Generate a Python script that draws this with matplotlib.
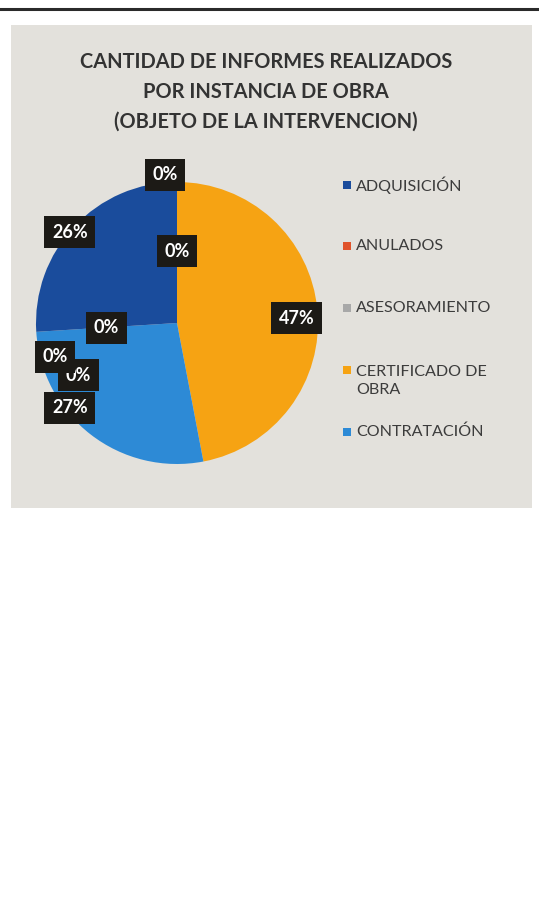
import matplotlib
matplotlib.use("Agg")
import matplotlib.pyplot as plt
from matplotlib.patches import Rectangle
from matplotlib.lines import Line2D

# ---- data ----
title = "CANTIDAD DE INFORMES REALIZADOS\nPOR INSTANCIA DE OBRA\n(OBJETO DE LA INTERVENCION)"
legend_labels = ["ADQUISICIÓN", "ANULADOS", "ASESORAMIENTO", "CERTIFICADO DE\nOBRA", "CONTRATACIÓN"]
# slices in drawing order (clockwise from 12 o'clock)
slice_names = ["CERTIFICADO DE OBRA", "CONTRATACIÓN", "ANULADOS", "ASESORAMIENTO", "OTROS", "ADQUISICIÓN", "OTROS 2", "OTROS 3"]
slice_values = [47, 27, 0, 0, 0, 26, 0, 0]
slice_labels = ["47%", "27%", "0%", "0%", "0%", "26%", "0%", "0%"]

colors = {
    "ADQUISICIÓN": "#1a4c9c",
    "ANULADOS": "#e0532b",
    "ASESORAMIENTO": "#a8a8a8",
    "CERTIFICADO DE OBRA": "#f6a313",
    "CONTRATACIÓN": "#2d8ad6",
    "OTROS": "#a8a8a8",
    "OTROS 2": "#a8a8a8",
    "OTROS 3": "#a8a8a8",
}
legend_keys = ["ADQUISICIÓN", "ANULADOS", "ASESORAMIENTO", "CERTIFICADO DE OBRA", "CONTRATACIÓN"]

# label placement (layout, in pie-radius units) and stacking order
label_pos = [(0.85, 0.035), (-0.76, -0.60), (-0.50, -0.035), (-0.865, -0.24),
             (-0.70, -0.37), (-0.76, 0.645), (-0.085, 1.05), (0.0, 0.51)]
label_z = [5, 7, 5, 6, 4, 5, 5, 5]

W, H = 539, 916
fig = plt.figure(figsize=(W / 100, H / 100), dpi=100)
fig.patch.set_facecolor("white")

def fx(px):
    return px / W

def fy(py):
    return 1 - py / H

# top rule
fig.add_artist(Line2D([0, 1], [fy(9), fy(9)], color="#2a2a2a", lw=2.2, zorder=-2))
# chart area
fig.add_artist(Rectangle((fx(11), fy(508)), fx(532) - fx(11), fy(25) - fy(508),
                         facecolor="#e3e1dc", edgecolor="none", zorder=-2))

fig.text(fx(266), fy(92), title, ha="center", va="center", fontsize=14.4,
         fontweight="bold", color="#333333", family="Lato", linespacing=1.6)

# pie
cx, cy, r = 177, 323, 141
ax = fig.add_axes([fx(cx - r), fy(cy + r), 2 * r / W, 2 * r / H])
ax.set_zorder(2)
ax.pie(slice_values, colors=[colors[n] for n in slice_names], startangle=90,
       counterclock=False, radius=1.0, wedgeprops=dict(linewidth=0))
ax.set_xlim(-1, 1)
ax.set_ylim(-1, 1)
ax.set_aspect("equal")
ax.axis("off")

for lab, (x, y), z in zip(slice_labels, label_pos, label_z):
    t = ax.text(x, y, lab, ha="center", va="center", fontsize=13, fontweight="bold",
                color="white", family="Lato", zorder=z,
                bbox=dict(boxstyle="square,pad=0.42", facecolor="#1c1a16", edgecolor="none"))
    t.set_clip_on(False)

# legend
rows_y = [185, 246, 308, 381, 432]
for key, lab, yy in zip(legend_keys, legend_labels, rows_y):
    first_y = yy - 11 if "\n" in lab else yy
    fig.add_artist(Rectangle((fx(343), fy(first_y + 4)), 8 / W, 8 / H,
                             facecolor=colors[key], edgecolor="none"))
    fig.text(fx(356), fy(yy), lab, ha="left", va="center", fontsize=11.6,
             color="#3c3c3c", family="Lato", linespacing=1.35)

fig.savefig("out.png", dpi=100, facecolor="white")
